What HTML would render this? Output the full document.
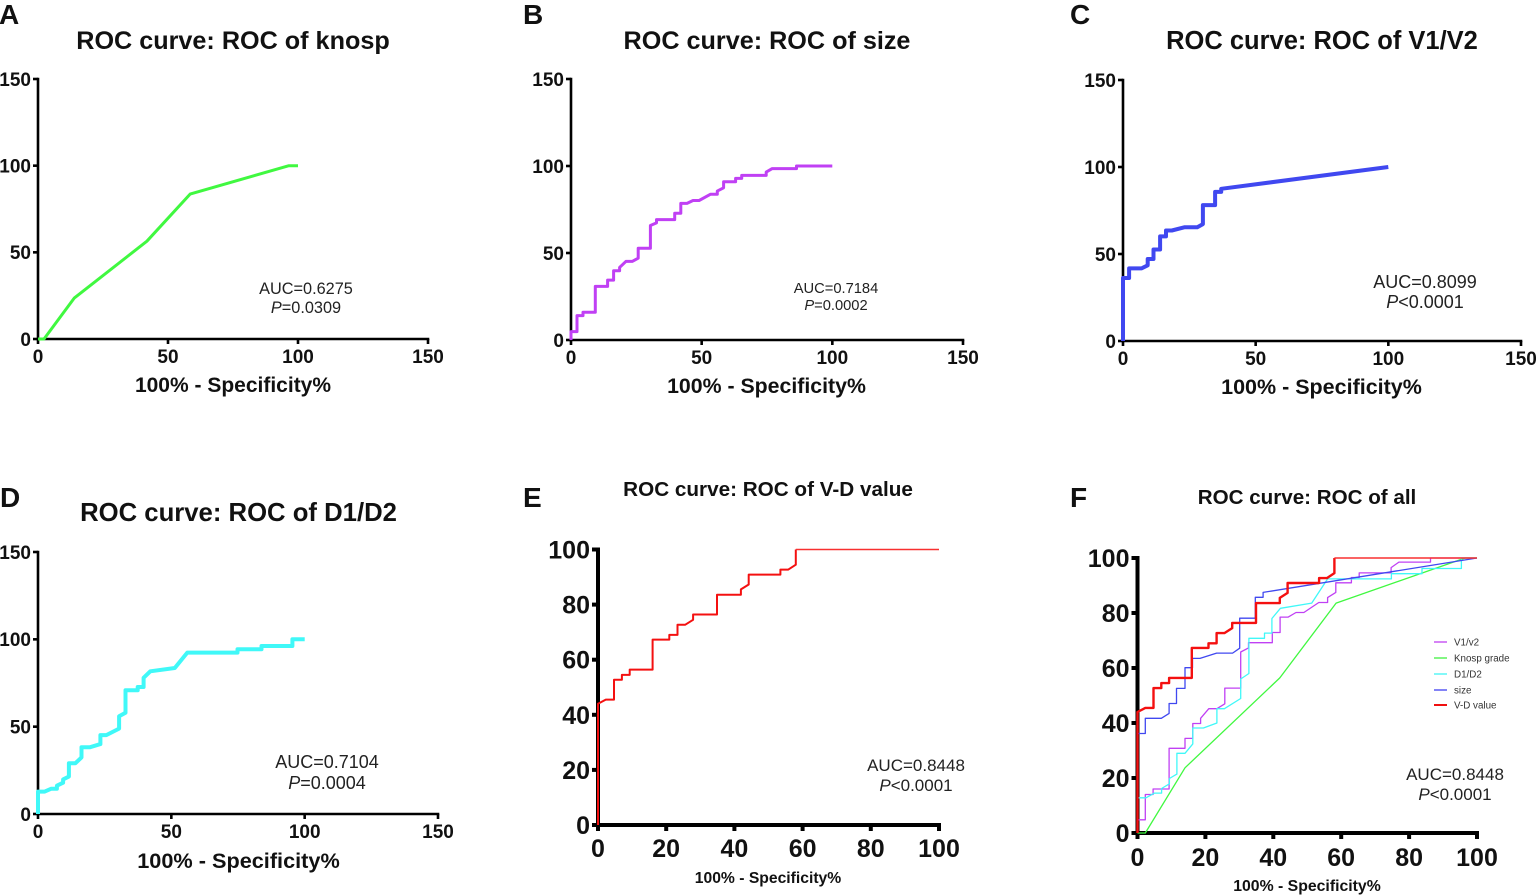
<!DOCTYPE html>
<html lang="en">
<head>
<meta charset="utf-8">
<title>ROC curves</title>
<style>
html,body{margin:0;padding:0;background:#fff;}
svg{display:block;font-family:"Liberation Sans",Arial,sans-serif;}
.ttl{font-weight:bold;text-anchor:middle;fill:#111;}
.xl{font-weight:bold;text-anchor:middle;fill:#111;}
.ltr{font-weight:bold;font-size:28px;fill:#111;}
.auc{text-anchor:middle;fill:#222;}
.leg{font-size:9.8px;fill:#333;}
</style>
</head>
<body>
<svg id="fig" width="1536" height="895" viewBox="0 0 1536 895" xmlns="http://www.w3.org/2000/svg">
  <rect width="1536" height="895" fill="#fff"/>
  <text class="ltr" x="-1" y="24">A</text>
  <text class="ltr" x="523" y="24">B</text>
  <text class="ltr" x="1070" y="24">C</text>
  <text class="ltr" x="0" y="507">D</text>
  <text class="ltr" x="523" y="507">E</text>
  <text class="ltr" x="1070" y="507">F</text>

  <text class="ttl" x="233" y="49" font-size="25.2">ROC curve: ROC of knosp</text>
  <text class="ttl" x="767" y="49" font-size="25.2">ROC curve: ROC of size</text>
  <text class="ttl" x="1322" y="49" font-size="25.5">ROC curve: ROC of V1/V2</text>
  <text class="ttl" x="238.5" y="521" font-size="25.7">ROC curve: ROC of D1/D2</text>
  <text class="ttl" x="768" y="496" font-size="20.7">ROC curve: ROC of V-D value</text>
  <text class="ttl" x="1307" y="504" font-size="20.6">ROC curve: ROC of all</text>

  <text class="xl" x="233" y="392" font-size="21">100% - Specificity%</text>
  <text class="xl" x="766.5" y="393" font-size="21.3">100% - Specificity%</text>
  <text class="xl" x="1321.5" y="394" font-size="21.5">100% - Specificity%</text>
  <text class="xl" x="238.5" y="868" font-size="21.7">100% - Specificity%</text>
  <text class="xl" x="768" y="883" font-size="15.7">100% - Specificity%</text>
  <text class="xl" x="1307" y="891" font-size="15.8">100% - Specificity%</text>

  <g><text class="auc" x="306" y="294" font-size="16.3">AUC=0.6275</text><text class="auc" x="306" y="313" font-size="16.3"><tspan font-style="italic">P</tspan>=0.0309</text></g>
  <g><text class="auc" x="836" y="293" font-size="14.7">AUC=0.7184</text><text class="auc" x="836" y="310" font-size="14.7"><tspan font-style="italic">P</tspan>=0.0002</text></g>
  <g><text class="auc" x="1425" y="288" font-size="18">AUC=0.8099</text><text class="auc" x="1425" y="308" font-size="18"><tspan font-style="italic">P</tspan>&lt;0.0001</text></g>
  <g><text class="auc" x="327" y="768" font-size="18">AUC=0.7104</text><text class="auc" x="327" y="789" font-size="18"><tspan font-style="italic">P</tspan>=0.0004</text></g>
  <g><text class="auc" x="916" y="771" font-size="17">AUC=0.8448</text><text class="auc" x="916" y="791" font-size="17"><tspan font-style="italic">P</tspan>&lt;0.0001</text></g>
  <g><text class="auc" x="1455" y="780" font-size="17">AUC=0.8448</text><text class="auc" x="1455" y="800" font-size="17"><tspan font-style="italic">P</tspan>&lt;0.0001</text></g>

  <g>
    <g><line x1="1434" x2="1447" y1="642" y2="642" stroke="#c040f0" stroke-width="1.3"/><text class="leg" x="1454" y="645.5">V1/v2</text></g>
    <g><line x1="1434" x2="1447" y1="658" y2="658" stroke="#40f040" stroke-width="1.3"/><text class="leg" x="1454" y="661.5">Knosp grade</text></g>
    <g><line x1="1434" x2="1447" y1="674" y2="674" stroke="#40f4f4" stroke-width="1.3"/><text class="leg" x="1454" y="677.5">D1/D2</text></g>
    <g><line x1="1434" x2="1447" y1="690" y2="690" stroke="#4040f0" stroke-width="1.3"/><text class="leg" x="1454" y="693.5">size</text></g>
    <g><line x1="1434" x2="1447" y1="705" y2="705" stroke="#f01010" stroke-width="2"/><text class="leg" x="1454" y="708.5">V-D value</text></g>
  </g>
  <g id="plots"></g>
</svg>
<script>
// Tick labels
const ticksWide = [0, 50, 100, 150];
const ticksPct = [0, 20, 40, 60, 80, 100];

// Knosp curve
const knospX = [0, 2.3, 14, 41.9, 58.5, 96.5, 100];
const knospY = [0, 0, 23.7, 56.4, 83.6, 100, 100];

// Purple step curve (panel B)
const purpleX = [0, 0, 2.3, 2.3, 4.6, 4.6, 9.3, 9.3, 14, 14, 16.3, 16.3, 18.6, 18.6, 21, 23.4, 25.7, 25.7, 30.4, 30.4, 32.7, 32.7, 39.7, 39.7, 42, 42, 44.4, 46.7, 49, 53.4, 56, 56, 58.4, 58.4, 63, 63, 65.3, 65.3, 74.7, 74.7, 77, 86.3, 86.3, 100];
const purpleY = [0, 4.8, 4.8, 14, 14, 16, 16, 30.8, 30.8, 34.4, 34.4, 39.8, 39.8, 41.7, 45.2, 45.2, 47, 52.7, 52.7, 65.8, 67.3, 69.2, 69.2, 72.9, 72.9, 78.5, 78.5, 80.2, 80.2, 83.8, 83.8, 85.6, 87.5, 91, 91, 92.9, 92.9, 94.6, 94.6, 96.5, 98.5, 98.5, 100, 100];

// Blue step curve (panel C)
const blueX = [0, 0, 2.3, 2.3, 7, 9.3, 9.3, 11.5, 11.5, 14, 14, 16.2, 16.2, 18.4, 23.3, 28, 30.1, 30.1, 34.7, 34.7, 37, 37, 100];
const blueY = [0, 36.2, 36.2, 41.7, 41.7, 43.5, 47.1, 47.1, 52.6, 52.6, 60.1, 60.1, 63.5, 63.5, 65.4, 65.4, 67.2, 78.1, 78.1, 85.7, 85.7, 87.5, 100];

// D1/D2 curve
const cyanX = [0, 0, 2.5, 5, 7.1, 7.1, 9.4, 9.4, 11.6, 11.6, 14, 16.3, 16.3, 19.4, 23.4, 23.4, 25.6, 30.4, 30.4, 32.8, 32.8, 37.4, 37.4, 39.6, 39.6, 42.1, 51.3, 56, 74.8, 74.8, 83.8, 83.8, 95.4, 95.4, 100];
const cyanY = [0, 12.8, 12.8, 14.5, 14.5, 16.2, 17.9, 19.8, 21.4, 29, 29, 32.4, 38.2, 38.2, 40, 45.2, 45.2, 48.9, 56, 58, 70.8, 70.8, 72.7, 72.7, 78, 81.7, 83.6, 92.4, 92.4, 94.3, 94.3, 96.2, 96.2, 100, 100];

// V-D value curve
const redX = [0, 0, 2.3, 4.7, 4.7, 7, 7, 9.3, 9.3, 16, 16, 20.9, 20.9, 23.3, 23.3, 25.6, 27.9, 27.9, 34.9, 34.9, 41.9, 41.9, 44.2, 44.2, 53.5, 53.5, 55.8, 58, 58, 100];
const redY = [0, 44, 45.5, 45.5, 52.7, 52.7, 54.5, 54.5, 56.4, 56.4, 67.3, 67.3, 69, 69, 72.7, 72.7, 74.5, 76.4, 76.4, 83.6, 83.6, 85.5, 87.3, 90.9, 90.9, 92.7, 92.7, 94.5, 100, 100];

const NS = 'http://www.w3.org/2000/svg';
const plots = document.getElementById('plots');

function mk(tag, attrs, parent) {
  const el = document.createElementNS(NS, tag);
  for (const k in attrs) el.setAttribute(k, attrs[k]);
  parent.appendChild(el);
  return el;
}

function drawPanel(p) {
  const g = mk('g', {}, plots);
  
  
  const sx = v => p.x0 + v * (p.x1 - p.x0) / p.max;
  const sy = v => p.y0 - v * (p.y0 - p.y1) / p.max;

  function curve(xs, ys, color, width, name) {
    const pts = xs.map((x, i) => sx(x).toFixed(1) + ',' + sy(ys[i]).toFixed(1)).join(' ');
    const line = mk('polyline', {points: pts, fill: 'none', stroke: color, 'stroke-width': width, 'stroke-linejoin': 'round'}, g);
    
    
  }

  const yAxis = mk('line', {x1: p.x0, x2: p.x0, y1: sy(p.max) - p.aw / 2, y2: p.y0 + p.aw / 2, stroke: '#000', 'stroke-width': p.aw}, g);
  
  
  const xAxis = mk('line', {x1: p.x0 - p.aw / 2, x2: sx(p.max) + p.aw / 2, y1: p.y0, y2: p.y0, stroke: '#000', 'stroke-width': p.aw}, g);
  
  

  p.ticks.forEach(t => {
    const tx = mk('line', {x1: sx(t), x2: sx(t), y1: p.y0, y2: p.y0 + p.tl, stroke: '#000', 'stroke-width': p.aw}, g);
    
    
    const ty = mk('line', {x1: p.x0 - p.tl, x2: p.x0, y1: sy(t), y2: sy(t), stroke: '#000', 'stroke-width': p.aw}, g);
    
    

    const lx = mk('text', {x: sx(t), y: p.y0 + p.base, 'font-size': p.fs, 'font-weight': 'bold', 'text-anchor': 'middle', fill: '#111'}, g);
    lx.textContent = t;
    
    
    const ly = mk('text', {x: p.x0 - p.lab, y: sy(t) + p.fs * 0.36, 'font-size': p.fs, 'font-weight': 'bold', 'text-anchor': 'end', fill: '#111'}, g);
    ly.textContent = t;
    
    
  });

  p.series.forEach(s => {
    if (s.thinWidth) {
      const last = s.x.length - 1;
      curve(s.x.slice(0, last), s.y.slice(0, last), s.color, s.width, s.name + '-rise');
      curve(s.x.slice(last - 1), s.y.slice(last - 1), '#f83030', s.thinWidth, s.name + '-plateau');
    } else {
      curve(s.x, s.y, s.color, s.width, s.name);
    }
  });
}

const cPurple = '#c040f4', cGreen = '#40f840', cCyan = '#40f8f8', cBlue = '#4048f0', cRed = '#f41010';

drawPanel({id:'a', x0:38, x1:428, y0:339, y1:79, max:150, ticks:ticksWide, aw:2.6, tl:5, fs:19, base:24, lab:7,
  series:[{x:knospX, y:knospY, color:cGreen, width:3, name:'curve-knosp'}]});
drawPanel({id:'b', x0:571, x1:963, y0:340, y1:79, max:150, ticks:ticksWide, aw:2.6, tl:5, fs:19, base:24, lab:7,
  series:[{x:purpleX, y:purpleY, color:cPurple, width:3, name:'curve-size'}]});
drawPanel({id:'c', x0:1123, x1:1521, y0:341, y1:80, max:150, ticks:ticksWide, aw:2.6, tl:5, fs:19, base:24, lab:7,
  series:[{x:blueX, y:blueY, color:cBlue, width:4, name:'curve-v1-v2'}]});
drawPanel({id:'d', x0:38, x1:438, y0:814, y1:552, max:150, ticks:ticksWide, aw:2.6, tl:5, fs:19, base:24, lab:7,
  series:[{x:cyanX, y:cyanY, color:cCyan, width:4, name:'curve-d1-d2'}]});
drawPanel({id:'e', x0:598, x1:939, y0:825, y1:549.5, max:100, ticks:ticksPct, aw:4, tl:6, fs:25, base:32, lab:8,
  series:[{x:redX, y:redY, color:cRed, width:2, thinWidth:1.4, name:'curve-v-d-value'}]});
drawPanel({id:'f', x0:1137.5, x1:1477, y0:833, y1:558, max:100, ticks:ticksPct, aw:4, tl:6, fs:25, base:33, lab:8,
  series:[
    {x:purpleX, y:purpleY, color:cPurple, width:1.3, name:'curve-v1-v2-all'},
    {x:knospX, y:knospY, color:cGreen, width:1.3, name:'curve-knosp-all'},
    {x:cyanX, y:cyanY, color:cCyan, width:1.3, name:'curve-d1-d2-all'},
    {x:blueX, y:blueY, color:cBlue, width:1.3, name:'curve-size-all'},
    {x:redX, y:redY, color:cRed, width:2.4, thinWidth:1.4, name:'curve-v-d-value-all'}
  ]});
</script>
</body>
</html>
